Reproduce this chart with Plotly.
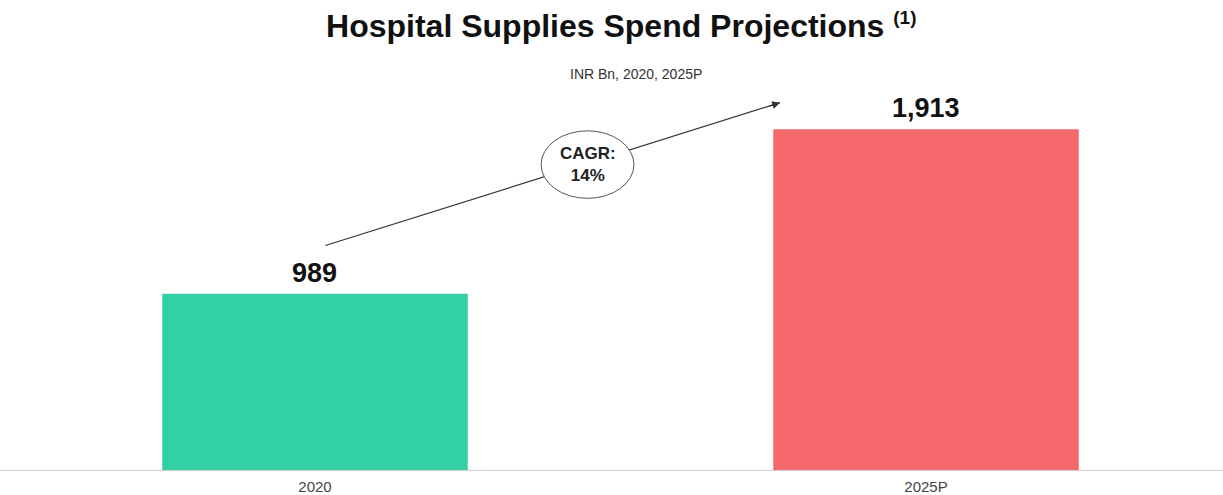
import plotly.graph_objects as go

# data
years = ["2020", "2025P"]
spend = [989, 1913]
bar_colors = ["#33CFA5", "#F5696D"]
cagr_label = "CAGR:<br>14%"

title_text = "Hospital Supplies Spend Projections"
subtitle_text = "INR Bn, 2020, 2025P"

FONT = "Liberation Sans, Arial"

fig = go.Figure()
fig.add_trace(go.Bar(
    x=years,
    y=spend,
    width=0.5,
    marker=dict(color=bar_colors, line=dict(width=0)),
    hoverinfo="x+y",
))

# value labels above bars (category index keeps "2020" from being read as a number)
for i, v in enumerate(spend):
    fig.add_annotation(
        x=i, y=v, text=f"<b>{v:,}</b>", showarrow=False,
        yanchor="bottom", yshift=4,
        font=dict(size=27, color="#111111", family=FONT),
    )

# CAGR arrow: line behind the ellipse, head added as annotation
x_start, y_start = 0.017, 1260
x_end, y_end = 0.761, 2062
fig.add_shape(type="line", xref="x", yref="y",
              x0=x_start, y0=y_start, x1=x_end, y1=y_end,
              line=dict(color="#333333", width=1.2))
fig.add_shape(type="circle", xref="x", yref="y",
              x0=0.370, x1=0.522, y0=1525, y1=1904,
              fillcolor="white", line=dict(color="#555555", width=1))
fig.add_annotation(
    x=x_end, y=y_end, ax=x_end - 0.02, ay=y_end - 22,
    xref="x", yref="y", axref="x", ayref="y",
    showarrow=True, arrowhead=2, arrowsize=1.3, arrowwidth=1.2,
    arrowcolor="#333333", text="",
)
fig.add_annotation(
    x=0.446, y=1714, xref="x", yref="y", text=f"<b>{cagr_label}</b>",
    showarrow=False, font=dict(size=17, color="#222222", family=FONT),
)

# subtitle
fig.add_annotation(
    x=0.52, y=1.083, xref="paper", yref="paper", text=subtitle_text,
    showarrow=False, font=dict(size=14, color="#333333", family=FONT),
)

fig.update_layout(
    width=1223,
    height=495,
    margin=dict(l=0, r=0, t=95, b=22),
    paper_bgcolor="white",
    plot_bgcolor="white",
    showlegend=False,
    title=dict(
        text=(f"<b>{title_text}</b> "
              "<sup><span style='font-size:19px'><b>(1)</b></span></sup>"),
        x=0.508, xanchor="center", y=1 - 26 / 495, yanchor="middle",
        font=dict(size=32, color="#111111", family=FONT),
    ),
    xaxis=dict(
        type="category",
        range=[-0.5155, 1.486],
        showline=True, linecolor="#D0D0D0", linewidth=1,
        showgrid=False, zeroline=False, ticks="",
        ticklabelstandoff=3,
        tickfont=dict(size=15, color="#444444", family=FONT),
    ),
    yaxis=dict(
        range=[0, 2105],
        visible=False, showgrid=False, zeroline=False,
    ),
)

fig.write_html(
    "out.html",
    config={"displayModeBar": False},
    post_script="document.body.style.margin='0px';",
)
